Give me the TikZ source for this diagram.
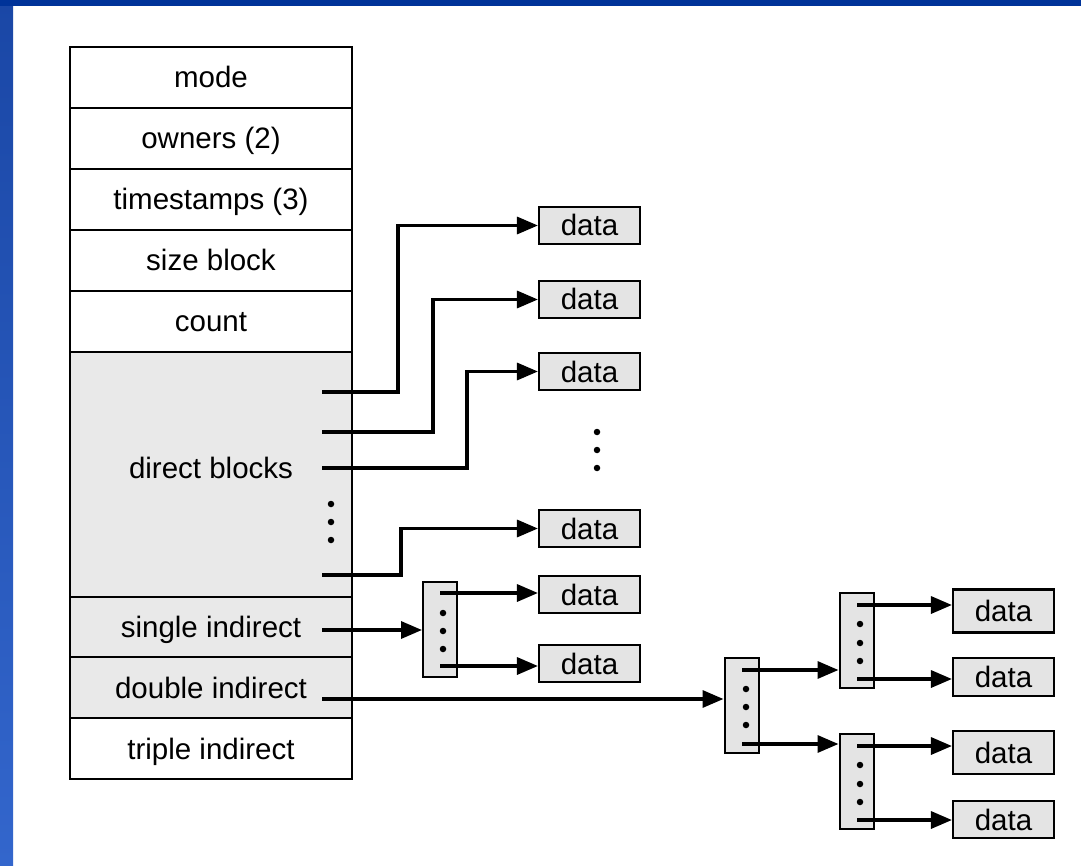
\documentclass[tikz,border=0pt]{standalone}
\usepackage{fontspec}
\setmainfont{Liberation Sans}
\usetikzlibrary{arrows.meta}
\definecolor{frameblue}{HTML}{003399}
\definecolor{bandtop}{HTML}{1A47A6}
\definecolor{bandbot}{HTML}{3366CC}
\definecolor{cellgrey}{HTML}{E9E9E9}
\definecolor{datagrey}{HTML}{E4E4E4}
\begin{document}
\begin{tikzpicture}[x=1pt,y=-1pt,
  txt/.style={font=\fontsize{29.5}{33}\selectfont, text height=23pt, text depth=2pt},
  cell/.style={draw=black, line width=2.1pt, minimum width=282pt, inner sep=0pt, txt},
  greycell/.style={cell, fill=cellgrey},
  databox/.style={draw=black, line width=2.1pt, fill=datagrey, minimum width=101pt, minimum height=37pt, inner sep=0pt, txt},
  blk/.style={draw=black, line width=2pt, fill=datagrey, minimum width=34pt, minimum height=95pt, inner sep=0pt},
  lbl/.style={inner sep=0pt, txt},
  conn/.style={line width=3.3pt, line cap=butt, line join=miter},
  arr/.style={conn, -{Triangle[length=21pt,width=17pt]}},
  dot/.style={circle, fill=black, inner sep=0pt, minimum size=6.5pt}
]
\useasboundingbox (0,0) rectangle (1081,866);
\fill[white] (0,0) rectangle (1081,866);
\shade[top color=bandtop, bottom color=bandbot] (0,0) rectangle (13,866);
\fill[frameblue] (0,0) rectangle (1081,6);

% inode table
\node[cell, minimum height=61pt] (mode) at (211,77.5) {mode};
\node[cell, minimum height=61pt] (owners) at (211,138.5) {owners (2)};
\node[cell, minimum height=61pt] (times) at (211,199.5) {timestamps (3)};
\node[cell, minimum height=61pt] (size) at (211,260.5) {size block};
\node[cell, minimum height=61pt] (count) at (211,321.5) {count};
\node[greycell, minimum height=245pt] (direct) at (211,474.5) {};
\node[lbl] (directlbl) at (211,467.5) {direct blocks};
\node[greycell, minimum height=60pt] (single) at (211,627) {single indirect};
\node[greycell, minimum height=61pt] (double) at (211,687.5) {double indirect};
\node[cell, minimum height=61pt] (triple) at (211,748.5) {triple indirect};

% dots in table
\node[dot] (td1) at (331,504) {};
\node[dot] (td2) at (331,522) {};
\node[dot] (td3) at (331,540) {};

% data boxes (left column)
\node[databox] (d1) at (589.5,225.5) {data};
\node[databox] (d2) at (589.5,299.5) {data};
\node[databox] (d3) at (589.5,371.5) {data};
\node[databox] (d4) at (589.5,528.5) {data};
\node[databox] (d5) at (589.5,594.5) {data};
\node[databox] (d6) at (589.5,663.5) {data};

\node[dot] (vd1) at (597,432) {};
\node[dot] (vd2) at (597,450) {};
\node[dot] (vd3) at (597,468) {};

% direct pointers
\coordinate (c1) at (322,392);
\coordinate (c2) at (322,432);
\coordinate (c3) at (322,468);
\coordinate (c4) at (322,575);
\coordinate (k1) at (398,392);
\coordinate (k2) at (433,432);
\coordinate (k3) at (467,468);
\coordinate (k4) at (401,575);
\draw[arr] (c1) -- (k1) -- (k1 |- d1.west) -- (d1.west);
\draw[arr] (c2) -- (k2) -- (k2 |- d2.west) -- (d2.west);
\draw[arr] (c3) -- (k3) -- (k3 |- d3.west) -- (d3.west);
\draw[arr] (c4) -- (k4) -- (k4 |- d4.west) -- (d4.west);

% single indirect
\node[blk] (sblk) at (440,629) {};
\node[dot] (sd1) at (443,613) {};
\node[dot] (sd2) at (443,631) {};
\node[dot] (sd3) at (443,649) {};
\coordinate (cs) at (322,630);
\draw[arr] (cs) -- (cs -| sblk.west);
\coordinate (s1) at (440,593);
\coordinate (s2) at (440,666);
\draw[arr] (s1) -- (s1 -| d5.west);
\draw[arr] (s2) -- (s2 -| d6.west);

% double indirect
\node[blk] (dblk) at (741.5,705.5) {};
\node[dot] (dd1) at (746,689) {};
\node[dot] (dd2) at (746,707) {};
\node[dot] (dd3) at (746,725) {};
\coordinate (cd) at (322,699);
\draw[arr] (cd) -- (cd -| dblk.west);

\node[blk] (ublk) at (856.5,640.5) {};
\node[dot] (ud1) at (860,624) {};
\node[dot] (ud2) at (860,643) {};
\node[dot] (ud3) at (860,661) {};
\node[blk] (lblk) at (856.5,781) {};
\node[dot] (ld1) at (860,765) {};
\node[dot] (ld2) at (860,784) {};
\node[dot] (ld3) at (860,802) {};

\coordinate (e1) at (742,670);
\coordinate (e2) at (742,744);
\draw[arr] (e1) -- (e1 -| ublk.west);
\draw[arr] (e2) -- (e2 -| lblk.west);

% right data boxes
\node[databox, minimum height=43pt] (r1) at (1003.5,611) {data};
\node[databox, minimum height=38pt] (r2) at (1003.5,677) {data};
\node[databox, minimum height=43pt] (r3) at (1003.5,752.5) {data};
\node[databox, minimum height=37pt] (r4) at (1003.5,819.5) {data};

\coordinate (u1) at (857,605);
\coordinate (u2) at (857,679);
\coordinate (l1) at (857,746);
\coordinate (l2) at (857,820);
\draw[arr] (u1) -- (u1 -| r1.west);
\draw[arr] (u2) -- (u2 -| r2.west);
\draw[arr] (l1) -- (l1 -| r3.west);
\draw[arr] (l2) -- (l2 -| r4.west);
\end{tikzpicture}
\end{document}
